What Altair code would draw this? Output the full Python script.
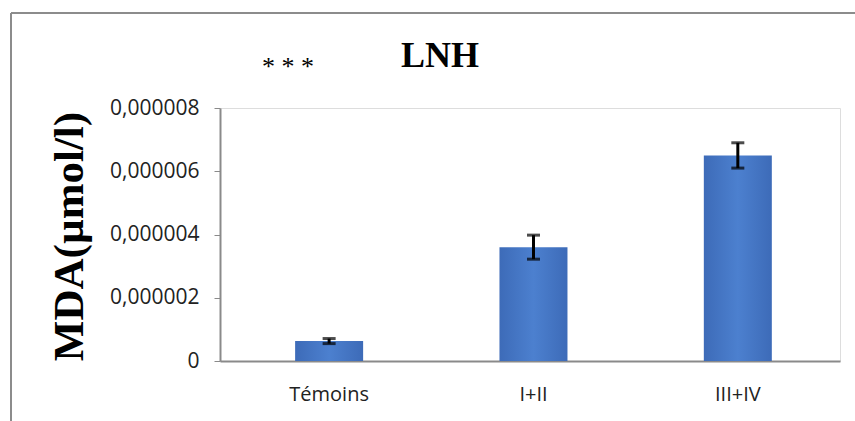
import altair as alt
import pandas as pd

# Groups, mean MDA concentrations and their error margins
groups = ["Témoins", "I+II", "III+IV"]
mda_mean = [0.00000063, 0.0000036, 0.0000065]
mda_err = [0.00000008, 0.00000038, 0.0000004]
y_ticks = [0, 0.000002, 0.000004, 0.000006, 0.000008]

df = pd.DataFrame({"groupe": groups, "mda": mda_mean, "err": mda_err})
df["low"] = df["mda"] - df["err"]
df["high"] = df["mda"] + df["err"]

W, H = 620, 253
PAD_L, PAD_T, PAD_R, PAD_B = 220, 108, 15, 60

x_enc = alt.X(
    "groupe:N",
    sort=groups,
    scale=alt.Scale(paddingInner=0, paddingOuter=0.017, align=1),
    axis=alt.Axis(
        title=None,
        labelAngle=0,
        ticks=False,
        labelFont="Open Sans",
        labelFontSize=20,
        labelColor="#222222",
        labelPadding=23,
        domainColor="#8a8a8a",
        domainWidth=2,
    ),
)

bar_fill = alt.Gradient(
    gradient="linear",
    x1=0, x2=1, y1=0, y2=0,
    stops=[
        alt.GradientStop(offset=0, color="#3d6bb8"),
        alt.GradientStop(offset=0.5, color="#4c80cf"),
        alt.GradientStop(offset=1, color="#3d6bb8"),
    ],
)

bars = alt.Chart(df).mark_bar(size=68, color=bar_fill).encode(
    x=x_enc,
    y=alt.Y(
        "mda:Q",
        scale=alt.Scale(domain=[0, 0.000008], nice=False),
        axis=alt.Axis(
            values=y_ticks,
            title="MDA(µmol/l)",
            titleFont="Liberation Serif",
            titleFontWeight="bold",
            titleFontSize=43,
            titleColor="#000000",
            titleAngle=-90,
            titleAlign="center",
            titleBaseline="alphabetic",
            titleX=-138,
            titleY=128,
            labelFont="Open Sans",
            labelFontSize=21,
            labelColor="#222222",
            labelPadding=15,
            labelExpr="datum.value == 0 ? '0' : replace(format(datum.value, '.6f'), '.', ',')",
            grid=False,
            tickSize=6,
            tickColor="#8a8a8a",
            domainColor="#8a8a8a",
            domainWidth=2,
        ),
    ),
)

err_line = alt.Chart(df).mark_rule(color="#000000", strokeWidth=3).encode(
    x=alt.X("groupe:N", sort=groups),
    y="low:Q",
    y2="high:Q",
)
cap_low = alt.Chart(df).mark_tick(color="#000000", thickness=3, size=13, orient="horizontal").encode(
    x=alt.X("groupe:N", sort=groups),
    y="low:Q",
)
cap_high = alt.Chart(df).mark_tick(color="#000000", thickness=3, size=13, orient="horizontal").encode(
    x=alt.X("groupe:N", sort=groups),
    y="high:Q",
)

# Chart heading and significance stars
heading = alt.Chart(pd.DataFrame({"t": ["LNH"]})).mark_text(
    font="Liberation Serif", fontSize=36, fontWeight="bold", align="center",
    baseline="alphabetic", color="#000000"
).encode(text="t:N", x=alt.value(440 - PAD_L), y=alt.value(67 - PAD_T))

stars = alt.Chart(pd.DataFrame({"t": ["* * *"]})).mark_text(
    font="Liberation Serif", fontSize=26, align="left", baseline="alphabetic", color="#000000"
).encode(text="t:N", x=alt.value(262 - PAD_L), y=alt.value(75 - PAD_T))

# Frame around the figure
frame_top = alt.Chart(pd.DataFrame({"a": [0]})).mark_rule(color="#8c8c8c", strokeWidth=2).encode(
    x=alt.value(11 - PAD_L), x2=alt.value(855 - PAD_L), y=alt.value(13 - PAD_T)
)
frame_left = alt.Chart(pd.DataFrame({"a": [0]})).mark_rule(color="#8c8c8c", strokeWidth=2).encode(
    x=alt.value(11 - PAD_L), y=alt.value(13 - PAD_T), y2=alt.value(421 - PAD_T)
)

chart = (
    alt.layer(frame_top, frame_left, bars, err_line, cap_low, cap_high, heading, stars)
    .properties(
        width=W,
        height=H,
        autosize=alt.AutoSizeParams(type="none"),
        padding={"left": PAD_L, "top": PAD_T, "right": PAD_R, "bottom": PAD_B},
    )
    .configure_view(stroke=None)
    .configure(background="#ffffff")
)

chart.save("out.html", embed_options={"renderer": "svg", "actions": False})
